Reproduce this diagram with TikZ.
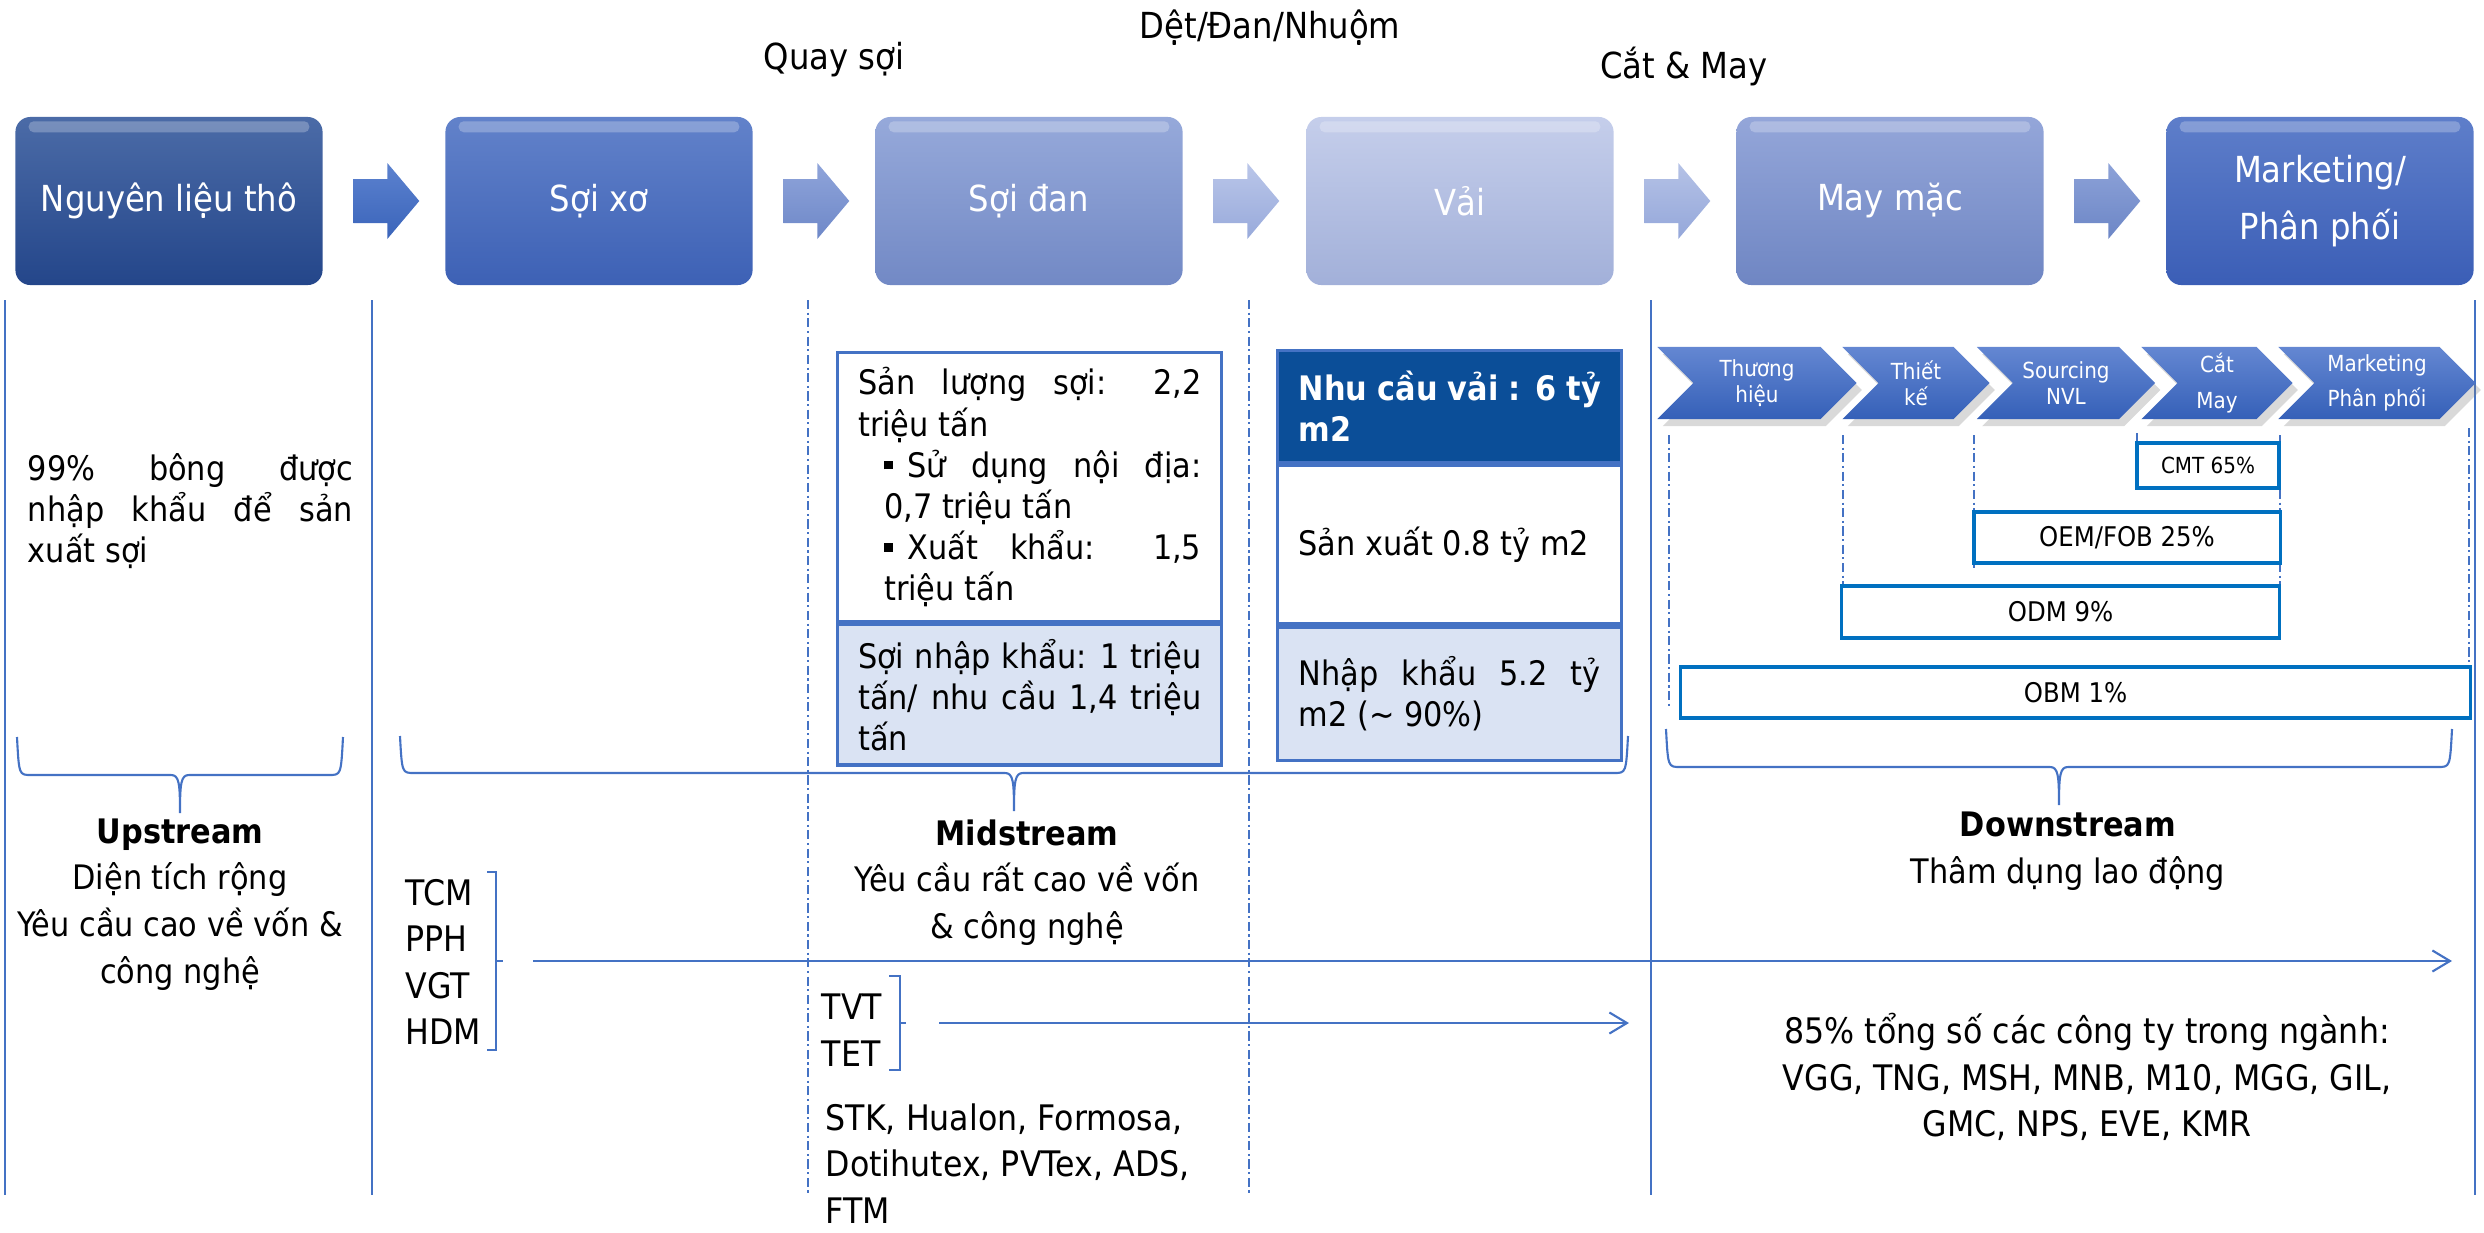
\documentclass[tikz,border=0pt]{standalone}
\usepackage{fontspec}
\setmainfont{DejaVu Sans}[FakeStretch=0.9]
\usetikzlibrary{arrows.meta,positioning,calc,shapes.symbols,shadows}

\definecolor{lineblue}{HTML}{4472C4}
\definecolor{edgeblue}{HTML}{0070C0}
\definecolor{headblue}{HTML}{0B4E98}
\definecolor{paleblue}{HTML}{DAE3F3}
\definecolor{chevtop}{HTML}{6487D2}
\definecolor{chevbot}{HTML}{3560B8}

\newcommand\bigtext{\fontsize{10.2}{16.2}\selectfont}
\newcommand\midtext{\fontsize{9.6}{11.7}\selectfont}
\newcommand\listtext{\fontsize{10}{13.2}\selectfont}
\newcommand\sharetext{\fontsize{7.7}{9}\selectfont}
\newcommand\smalltext{\fontsize{6.3}{7.4}\selectfont}
\newcommand\sqbullet{\rule[2.2pt]{2.4pt}{2.4pt}\hspace{4.2pt}}

% curly brace opening downwards: left x, right x, top y, bar y
\newcommand\streambrace[4]{%
  \draw[thinline] (#1,#3) .. controls (#1+2,#4) and (#1+2,#4) .. (#1+14,#4)
    -- ({(#1+#2)/2-9},#4) .. controls ({(#1+#2)/2-1},#4) and ({(#1+#2)/2},#4+8) .. ({(#1+#2)/2},#4+38)
    .. controls ({(#1+#2)/2},#4+8) and ({(#1+#2)/2+1},#4) .. ({(#1+#2)/2+9},#4)
    -- (#2-14,#4) .. controls (#2-2,#4) and (#2-2,#4) .. (#2,#3);}

\begin{document}
\begin{tikzpicture}[x=0.01cm,y=-0.01cm,>={Straight Barb[length=5pt,width=6pt]}]
\tikzset{
  thinline/.style={lineblue,line width=.6pt},
  guide/.style={lineblue,line width=.6pt,dash pattern=on 2.6pt off 1pt on .6pt off 1pt},
  stage/.style={rounded corners=.15cm,minimum width=3.07cm,minimum height=1.68cm,
    inner sep=0,text=white,align=center,font=\bigtext},
  chev/.style={signal,signal from=west,signal to=east,signal pointer angle=90,
    minimum height=.72cm,inner sep=0,top color=chevtop,bottom color=chevbot,
    text=white,align=center,font=\smalltext,
    drop shadow={shadow xshift=1.5pt,shadow yshift=-2pt,opacity=.3}},
  share/.style={draw=edgeblue,line width=.9pt,fill=white,inner sep=0,font=\sharetext},
  cell/.style={draw=lineblue,line width=.9pt,inner sep=0,font=\midtext,align=justify},
  firms/.style={font=\listtext,align=left,inner sep=0},
  flow/.style={thinline,->}
}
\useasboundingbox (0,0) rectangle (2484,1233);

% value chain stages
\foreach \n/\x/\ct/\cb/\t in {
    raw/169/4B6BA7/24468A/{Nguyên liệu thô},
    fibre/599/6282CA/3D61B5/{Sợi xơ},
    yarn/1029/96A9DA/7289C5/{Sợi đan},
    fabric/1460/C5CEEB/A2B0D9/{Vải},
    garment/1890/94A6D9/6F86C3/{May mặc},
    market/2320/5E7ECA/3B5EB6/{Marketing/\\Phân phối}}{
  \definecolor{ctop}{HTML}{\ct}\definecolor{cbot}{HTML}{\cb}
  \node[stage,top color=ctop,bottom color=cbot] (\n) at (\x,201) {\t};
  \fill[white,opacity=.25,rounded corners=.05cm]
    ($(\n.north west)+(14,5)$) rectangle ($(\n.north east)+(-14,16)$);
}
\foreach \a/\ct/\cb in {raw/5C82CF/3A64BA,fibre/8FA4DA/6E88C8,yarn/BAC6E9/98AADB,
    fabric/B5C2E6/94A7DA,garment/8DA2D8/6C86C6}{
  \definecolor{ctop}{HTML}{\ct}\definecolor{cbot}{HTML}{\cb}
  \shade[top color=ctop,bottom color=cbot] ($(\a.east)+(30,-22)$) -- ++(34,0) -- ++(0,-16)
    -- ++(32,38) -- ++(-32,38) -- ++(0,-16) -- ++(-34,0) -- cycle;
}

\node[font=\bigtext] (spin) at (834,60) {Quay sợi};
\node[font=\bigtext] (weave) at (1270,27) {Dệt/Đan/Nhuộm};
\node[font=\bigtext] (sew) at (1684,66) {Cắt \& May};

% column rules
\foreach \x in {5,372,1651,2475} \draw[thinline] (\x,300) -- (\x,1195);
\foreach \x in {808,1249} \draw[guide] (\x,300) -- (\x,1195);

% upstream
\node[font=\midtext,text width=3.25cm,align=justify,inner sep=0] (cotton) at (190.5,511)
  {99\% bông được\linebreak nhập khẩu để sản\linebreak xuất sợi};

% midstream tables
\node[cell,fill=white,text width=3.43cm,minimum width=3.84cm,minimum height=2.69cm,
  anchor=north west] (yarnout) at (836,351)
  {Sản lượng sợi: 2,2\linebreak triệu tấn\par
   \leftskip=.26cm \sqbullet Sử dụng nội địa:\linebreak 0,7 triệu tấn\par
   \sqbullet Xuất khẩu: 1,5\linebreak triệu tấn\par};
\node[cell,fill=paleblue,text width=3.43cm,minimum width=3.84cm,minimum height=1.40cm,
  below=0pt of yarnout] (yarnimp)
  {Sợi nhập khẩu: 1 triệu\linebreak tấn/ nhu cầu 1,4 triệu\linebreak tấn};

\node[cell,fill=headblue,text=white,font=\midtext\bfseries,text width=3.02cm,
  minimum width=3.44cm,minimum height=1.12cm,anchor=north west] (fabneed) at (1276,349)
  {Nhu cầu vải : 6 tỷ\linebreak m2};
\node[cell,fill=white,text width=3.02cm,minimum width=3.44cm,minimum height=1.58cm,
  below=0pt of fabneed] (fabmade) {Sản xuất 0.8 tỷ m2};
\node[cell,fill=paleblue,text width=3.02cm,minimum width=3.44cm,minimum height=1.33cm,
  below=0pt of fabmade] (fabimp) {Nhập khẩu 5.2 tỷ\linebreak m2 (\textasciitilde{} 90\%)};

% downstream steps
\node[chev,minimum width=1.99cm] (brand) at (1757,383) {Thương\\hiệu};
\node[chev,minimum width=1.47cm] (design) at (1916,383) {Thiết\\kế};
\node[chev,minimum width=1.78cm] (source) at (2066,383) {Sourcing\\NVL};
\node[chev,minimum width=1.51cm,font=\fontsize{6.3}{10}\selectfont] (cut) at (2217,383) {Cắt\\May};
\node[chev,minimum width=1.97cm,font=\fontsize{6.3}{10}\selectfont] (sell) at (2377,383) {Marketing\\Phân phối};

\draw[guide] (1669,435) -- (1669,708);
\draw[guide] (1843,435) -- (1843,586);
\draw[guide] (1974,435) -- (1974,568);
\draw[guide] (2137,433) -- (2137,443);
\draw[guide] (2280,435) -- (2280,587);
\draw[guide] (2469,428) -- (2469,667);

\node[share,minimum width=1.42cm,minimum height=.45cm,font=\smalltext] (cmt) at (2208,465.5) {CMT 65\%};
\node[share,minimum width=3.06cm,minimum height=.51cm] (oem) at (2127,537.5) {OEM/FOB 25\%};
\node[share,minimum width=4.37cm,minimum height=.52cm] (odm) at (2060.5,612) {ODM 9\%};
\node[share,minimum width=7.89cm,minimum height=.51cm] (obm) at (2075.5,692.5) {OBM 1\%};

% segments
\streambrace{17}{343}{737}{775}
\streambrace{400}{1628}{736}{773}
\streambrace{1666}{2452}{729}{767}

\node[font=\fontsize{9.6}{13.3}\selectfont,align=center] (up) at (180,904.5)
  {\textbf{Upstream}\\Diện tích rộng\\Yêu cầu cao về vốn \&\\công nghệ};
\node[font=\fontsize{9.6}{13.3}\selectfont,align=center] (mid) at (1027,882.5)
  {\textbf{Midstream}\\Yêu cầu rất cao về vốn\\\& công nghệ};
\node[font=\fontsize{9.6}{13.3}\selectfont,align=center] (down) at (2068,851.5)
  {\textbf{Downstream}\\Thâm dụng lao động};

% companies
\node[firms,anchor=west] (fibrefirms) at (405,962) {TCM\\PPH\\VGT\\HDM};
\draw[thinline] (487,872) -- (496,872) -- (496,1050) -- (487,1050) (496,961) -- (503,961);
\coordinate (fibrefrom) at (533,961);
\coordinate (fibreto) at (2452,961);
\draw[flow] (fibrefrom) -- (fibreto);

\node[firms,anchor=west] (yarnfirms) at (821,1030) {TVT\\TET};
\draw[thinline] (889,976) -- (900,976) -- (900,1070) -- (889,1070) (900,1023) -- (906,1023);
\coordinate (yarnfrom) at (939,1023);
\coordinate (yarnto) at (1629,1023);
\draw[flow] (yarnfrom) -- (yarnto);

\node[firms,anchor=north west] (otherfirms) at (825,1103)
  {STK, Hualon, Formosa,\\Dotihutex, PVTex, ADS,\\FTM};

\node[font=\listtext,align=center] (garmentfirms) at (2087,1077)
  {85\% tổng số các công ty trong ngành:\\VGG, TNG, MSH, MNB, M10, MGG, GIL,\\GMC, NPS, EVE, KMR};
\end{tikzpicture}
\end{document}
